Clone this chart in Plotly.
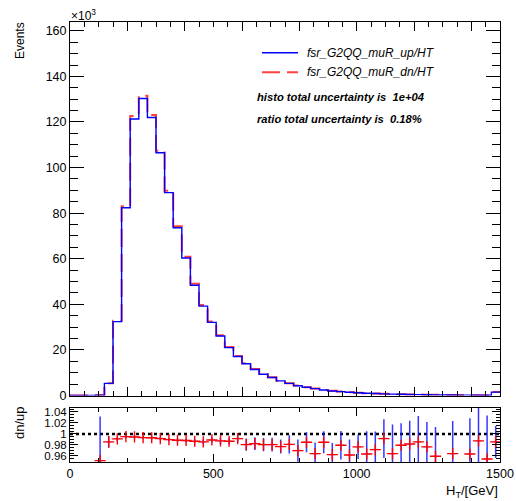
import plotly.graph_objects as go

# ---------------- data ----------------
bin_edges = list(range(0, 1501, 30))  # 50 bins of 30 GeV

events_up = [0, 0, 20, 150, 5300, 32400, 82400, 121300, 130300, 122000,
             106500, 89000, 73600, 60300, 48400, 39200, 32100, 26100, 21000, 17100,
             13900, 11400, 9300, 7900, 6400, 5300, 4300, 3600, 3000, 2400,
             2000, 1700, 1400, 1200, 1000, 850, 720, 620, 520, 450,
             380, 330, 280, 240, 210, 180, 160, 140, 120, 1500]

events_dn = [0, 0, 20, 160, 5400, 32800, 83000, 122600, 131500, 123100,
             107400, 89800, 74300, 60900, 49000, 39700, 32500, 26400, 21300, 17300,
             14100, 11600, 9450, 8000, 6500, 5400, 4400, 3650, 3050, 2450,
             2050, 1730, 1430, 1220, 1020, 870, 730, 630, 530, 460,
             390, 340, 290, 250, 210, 180, 160, 140, 120, 1550]

ratio_first_bin = 3  # ratio points start at bin 90-120 GeV
ratio_vals = [0.9515, 0.9855, 0.991, 0.995, 0.9945, 0.9933, 0.993, 0.9915, 0.9897, 0.9885,
              0.988, 0.9867, 0.9855, 0.989, 0.9873, 0.9867, 0.9915, 0.9806, 0.9824, 0.9806,
              0.9806, 0.977, 0.981, 0.9697, 0.9848, 0.9642, 0.9848, 0.9624, 0.9794, 0.9618,
              0.9764, 0.9636, 0.9715, 0.9915, 0.9642, 0.9794, 0.9818, 0.9855, 0.9764, 0.9594,
              None, 0.9642, None, 0.9636, 0.9873, 0.9545, 0.9855]
ratio_errs = [0.08, 0.0107, 0.004, 0.003, 0.003, 0.003, 0.003, 0.003, 0.003, 0.0032,
              0.0035, 0.004, 0.0045, 0.005, 0.0055, 0.006, 0.006, 0.011, 0.0115, 0.012,
              0.0125, 0.0127, 0.0166, 0.02, 0.018, 0.02, 0.02, 0.021, 0.026, 0.028,
              0.022, 0.041, 0.033, 0.035, 0.053, 0.040, 0.042, 0.047, 0.045, 0.053,
              None, 0.059, None, 0.065, 0.08, 0.079, 0.029]

main_yticks = [0, 20000, 40000, 60000, 80000, 100000, 120000, 140000, 160000]
main_yticklabels = ["0", "20", "40", "60", "80", "100", "120", "140", "160"]
ratio_yticks = [0.96, 0.98, 1.0, 1.02, 1.04]
ratio_yticklabels = ["0.96", "0.98", "1", "1.02", "1.04"]
x_ticks = [0, 500, 1000, 1500]

legend_up = "fsr_G2QQ_muR_up/HT"
legend_dn = "fsr_G2QQ_muR_dn/HT"
info_lines = ["histo total uncertainty is  1e+04", "ratio total uncertainty is  0.18%"]

# ---------------- figure ----------------
W, H = 516, 501
FONT = "Liberation Sans, Arial, sans-serif"

def px(x):
    return x / W

def py(y):
    return 1 - y / H

fig = go.Figure()

step_x = bin_edges
fig.add_trace(go.Scatter(x=step_x, y=events_dn + [events_dn[-1]], mode="lines",
                         line=dict(shape="hv", color="rgba(255,0,0,0.75)", width=2,
                                   dash="18px,7px"),
                         xaxis="x", yaxis="y", showlegend=False))
fig.add_trace(go.Scatter(x=step_x, y=events_up + [events_up[-1]], mode="lines",
                         line=dict(shape="hv", color="rgb(0,0,255)", width=1.4),
                         xaxis="x", yaxis="y", showlegend=False))

# ratio panel
centers = [(bin_edges[i] + bin_edges[i + 1]) / 2 for i in range(len(bin_edges) - 1)]
rx = centers[ratio_first_bin:ratio_first_bin + len(ratio_vals)]

fig.add_trace(go.Scatter(x=[0, 1500], y=[1, 1], mode="lines",
                         line=dict(color="black", width=2.5, dash="3px,3px"),
                         xaxis="x2", yaxis="y2", showlegend=False))
fig.add_trace(go.Scatter(x=rx, y=ratio_vals, mode="markers",
                         marker=dict(size=1, color="rgba(0,0,0,0)"),
                         error_y=dict(type="data", array=ratio_errs, color="rgba(20,20,255,0.85)",
                                      thickness=1.5, width=0),
                         error_x=dict(type="constant", value=11, color="rgba(120,120,255,0.6)",
                                      thickness=1.5, width=0),
                         xaxis="x2", yaxis="y2", showlegend=False))
fig.add_trace(go.Scatter(x=rx, y=ratio_vals, mode="markers",
                         marker=dict(symbol="cross-thin", size=8,
                                     line=dict(color="red", width=1.4)),
                         xaxis="x2", yaxis="y2", showlegend=False))

x_dom = [px(70), px(500)]
axis_common = dict(showline=True, linecolor="black", linewidth=1, mirror="ticks",
                   ticks="inside", tickcolor="black", showgrid=False, zeroline=False,
                   automargin=False)

fig.update_layout(
    width=W, height=H,
    margin=dict(l=0, r=0, t=0, b=0, pad=0, autoexpand=False),
    paper_bgcolor="white", plot_bgcolor="white",
    font=dict(family=FONT, color="black"),
    showlegend=False,
    xaxis=dict(domain=x_dom, range=[0, 1500], anchor="y", showticklabels=False,
               tickmode="linear", tick0=0, dtick=200, ticklen=9,
               minor=dict(ticks="inside", dtick=50, ticklen=5, tickcolor="black"),
               **axis_common),
    yaxis=dict(domain=[py(395.5), py(21.7)], range=[0, 164000], anchor="x",
               tickvals=main_yticks, ticktext=main_yticklabels, ticklen=14,
               tickfont=dict(family=FONT, size=12.5, color="black"),
               minor=dict(ticks="inside", dtick=5000, ticklen=8, tickcolor="black"),
               **axis_common),
    xaxis2=dict(domain=x_dom, range=[0, 1500], anchor="y2",
                tickvals=x_ticks, ticklen=8,
                tickfont=dict(family=FONT, size=12.5, color="black"),
                minor=dict(ticks="inside", dtick=100, ticklen=4, tickcolor="black"),
                **axis_common),
    yaxis2=dict(domain=[py(462.3), py(408)], range=[0.9485, 1.047], anchor="x2",
                tickvals=ratio_yticks, ticktext=ratio_yticklabels, ticklen=8,
                tickfont=dict(family=FONT, size=11.5, color="black"),
                minor=dict(ticks="inside", dtick=0.005, ticklen=4, tickcolor="black"),
                **axis_common),
)

# legend (drawn manually)
fig.add_shape(type="line", xref="paper", yref="paper",
              x0=px(262), x1=px(298), y0=py(52.7), y1=py(52.7),
              line=dict(color="rgb(0,0,255)", width=1.4))
fig.add_shape(type="line", xref="paper", yref="paper",
              x0=px(262), x1=px(298), y0=py(72.3), y1=py(72.3),
              line=dict(color="rgba(255,0,0,0.75)", width=2, dash="18px,7px"))

annots = [
    dict(x=px(305), y=py(52.7), text="<i>" + legend_up + "</i>", xanchor="left", yanchor="middle",
         font=dict(size=12)),
    dict(x=px(305), y=py(72.3), text="<i>" + legend_dn + "</i>", xanchor="left", yanchor="middle",
         font=dict(size=12)),
    dict(x=px(255), y=py(97.3), text="<b><i>" + info_lines[0] + "</i></b>", xanchor="left",
         yanchor="middle", font=dict(size=11.2)),
    dict(x=px(255), y=py(119), text="<b><i>" + info_lines[1] + "</i></b>", xanchor="left",
         yanchor="middle", font=dict(size=11.2)),
    dict(x=px(69), y=py(15), text="×10<sup>3</sup>", xanchor="left", yanchor="middle",
         font=dict(size=12)),
    dict(x=px(20), y=py(41), text="Events", textangle=-90, xanchor="center", yanchor="middle",
         font=dict(size=12)),
    dict(x=px(19), y=py(423), text="dn/up", textangle=-90, xanchor="center", yanchor="middle",
         font=dict(size=13)),
    dict(x=px(500), y=py(491), text="H<sub>T</sub>/[GeV]", xanchor="right", yanchor="middle",
         font=dict(size=13)),
]
for a in annots:
    a.update(xref="paper", yref="paper", showarrow=False)
    a["font"].update(family=FONT, color="black")
    fig.add_annotation(**a)

fig.write_html("out.html", config={"displayModeBar": False},
               post_script="document.body.style.margin='0';document.body.style.overflow='hidden';")
